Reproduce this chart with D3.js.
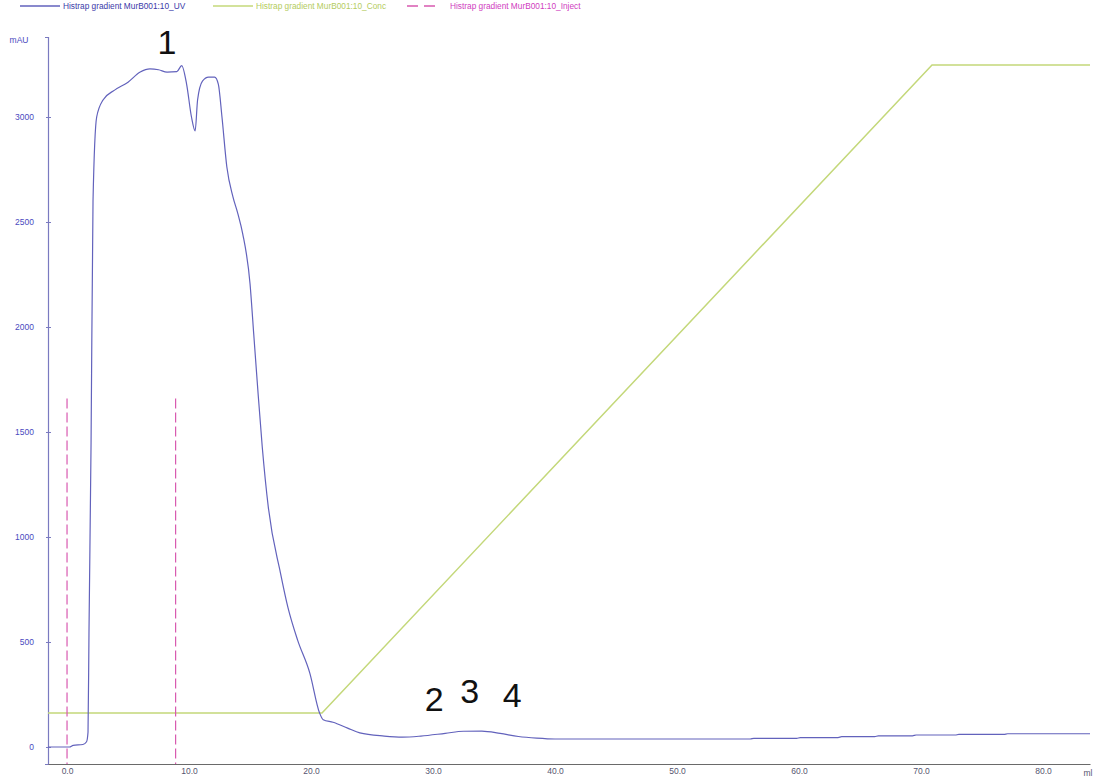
<!DOCTYPE html>
<html>
<head>
<meta charset="utf-8">
<script src="https://cdn.jsdelivr.net/npm/d3@7"></script>
<style>
  html, body { margin: 0; padding: 0; background: #fff; }
  svg { display: block; font-family: "Liberation Sans", Arial, sans-serif; }
</style>
</head>
<body>
<svg id="chart" width="1104" height="777"></svg>
<script>
// ---- Data ----
const uvMl = [-1.56, 0.2, 0.5, 1.3, 1.6, 1.72, 1.8, 1.97, 2.13, 2.43, 2.95, 3.9, 5.0, 6.0, 6.8, 7.5, 8.2, 9.0, 9.4, 9.8, 10.2, 10.5, 10.7, 11.1, 11.6, 12.1, 12.4, 12.7, 13.1, 13.6, 14.0, 14.4, 15.0, 15.3, 15.6, 16.0, 16.5, 17.5, 18.1, 18.9, 19.9, 20.7, 21.0, 21.8, 23.0, 24.0, 26.0, 27.5, 29.0, 31.0, 32.5, 34.0, 35.5, 37.0, 38.5, 40.0, 56.0, 56.3, 59.8, 60.1, 63.2, 63.5, 66.2, 66.5, 69.3, 69.6, 72.8, 73.1, 76.8, 77.1, 83.85];
const uvMAU = [0, 0, 8, 12, 25, 70, 550, 1450, 2600, 3000, 3081, 3128, 3166, 3214, 3229, 3225, 3214, 3216, 3245, 3157, 3000, 2934, 3081, 3171, 3190, 3190, 3157, 3000, 2762, 2620, 2540, 2444, 2206, 1969, 1731, 1430, 1141, 827, 666, 509, 352, 162, 130, 118, 90, 67, 52, 47, 52, 65, 75, 76, 65, 50, 42, 38, 38, 41, 41, 45, 45, 49, 49, 53, 53, 57, 57, 60, 60, 63, 63];

const concMl = [-1.56, 20.9, 70.9, 83.85];
const concPct = [5, 5, 100, 100];

const injectMl = [0, 8.9];
const injectTopMAU = 1660;

const yTicks = [0, 500, 1000, 1500, 2000, 2500, 3000];
const xTicks = [0, 10, 20, 30, 40, 50, 60, 70, 80];

const legendLabels = ["Histrap gradient MurB001:10_UV", "Histrap gradient MurB001:10_Conc", "Histrap gradient MurB001:10_Inject"];

const peakLabels = ["1", "2", "3", "4"];
const peakMl = [8.2, 30.1, 33.0, 36.5];
const peakMAU = [3300, 170, 210, 190];

// ---- Scales ----
const svg = d3.select("#chart");
const x = d3.scaleLinear().domain([-1.56, 83.85]).range([48, 1090]);
const y = d3.scaleLinear().domain([-81, 3381]).range([764, 37]);
const yConc = d3.scaleLinear().domain([0, 100]).range([747, 65]);

const uvColor = "#6262bc";
const concColor = "#c4d87a";
const injColor = "#d85ab0";

// ---- Axes ----
const yAxis = d3.axisLeft(y).tickValues(yTicks).tickSize(3).tickFormat(d3.format("d"));
const gy = svg.append("g").attr("transform", "translate(48,0)").call(yAxis);
gy.select(".domain").attr("stroke", "#7a7ac0").attr("stroke-width", 1.2);
gy.selectAll(".tick line").attr("stroke", "#7a7ac0").attr("x2", 3).attr("x1", -2);
gy.selectAll(".tick text").attr("fill", "#4a4ac0").attr("font-size", 8.5).attr("x", -14);

const xAxis = d3.axisBottom(x).tickValues(xTicks).tickSize(0).tickFormat(d3.format(".1f"));
const gx = svg.append("g").attr("transform", "translate(0,764)").call(xAxis);
gx.select(".domain").attr("stroke", "#6a6a6a").attr("stroke-width", 1.2);
gx.selectAll(".tick text").attr("fill", "#555570").attr("font-size", 8.5).attr("dy", "0.95em").attr("y", 2);

svg.append("text").attr("x", 1088).attr("y", 776).attr("font-size", 8.5).attr("fill", "#555570").attr("text-anchor", "middle").text("ml");
svg.append("text").attr("x", 19).attr("y", 43).attr("font-size", 8.5).attr("fill", "#4a4ac0").attr("text-anchor", "middle").text("mAU");

// ---- Series ----
const concData = concMl.map((m, i) => [m, concPct[i]]);
svg.append("path").datum(concData)
  .attr("fill", "none").attr("stroke", concColor).attr("stroke-width", 1.5)
  .attr("d", d3.line().x(d => x(d[0])).y(d => yConc(d[1])));

svg.selectAll("line.inject").data(injectMl).enter().append("line")
  .attr("class", "inject")
  .attr("x1", d => x(d)).attr("x2", d => x(d))
  .attr("y1", y(injectTopMAU)).attr("y2", 764)
  .attr("stroke", injColor).attr("stroke-width", 1.2).attr("stroke-dasharray", "10,4");

const uvData = uvMl.map((m, i) => [m, uvMAU[i]]);
svg.append("path").datum(uvData)
  .attr("fill", "none").attr("stroke", uvColor).attr("stroke-width", 1.2)
  .attr("d", d3.line().curve(d3.curveMonotoneX).x(d => x(d[0])).y(d => y(d[1])));

// ---- Peak labels ----
svg.selectAll("text.peak").data(peakLabels).enter().append("text")
  .attr("class", "peak")
  .attr("x", (d, i) => x(peakMl[i])).attr("y", (d, i) => y(peakMAU[i]))
  .attr("text-anchor", "middle").attr("font-size", 34).attr("fill", "#111")
  .text(d => d);

// ---- Legend ----
const legendX = [20, 213, 407];
const legendColors = [uvColor, concColor, injColor];
const legendTextColors = ["#3a3aa8", "#b4cc60", "#d040c0"];
const lg = svg.append("g");
legendLabels.forEach((lab, i) => {
  lg.append("line").attr("x1", legendX[i]).attr("x2", legendX[i] + (i === 2 ? 28 : 40))
    .attr("y1", 6).attr("y2", 6).attr("stroke", legendColors[i]).attr("stroke-width", 1.3)
    .attr("stroke-dasharray", i === 2 ? "11,6" : null);
  lg.append("text").attr("x", legendX[i] + (i === 2 ? 43 : 43)).attr("y", 9)
    .attr("font-size", 8.3).attr("fill", legendTextColors[i]).text(lab);
});
</script>
</body>
</html>
